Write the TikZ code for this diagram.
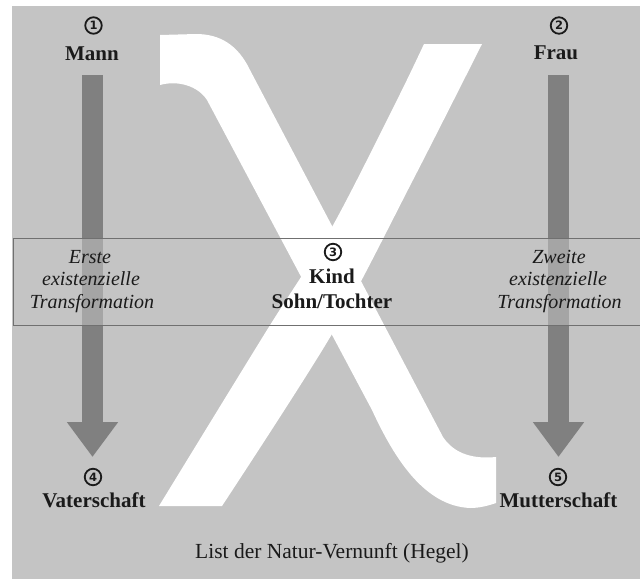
\documentclass[tikz,border=0pt]{standalone}
\usepackage{fontspec}
\setmainfont{Liberation Serif}
\setsansfont{DejaVu Sans}
\usetikzlibrary{arrows.meta}
\definecolor{bggray}{HTML}{C4C4C4}
\definecolor{arrowgray}{HTML}{808080}
\definecolor{linegray}{HTML}{707070}
\definecolor{txt}{HTML}{1A1A1A}
\begin{document}
\begin{tikzpicture}[x=1pt,y=-1pt,
  lbl/.style={font=\bfseries\fontsize{21}{24}\selectfont, text=txt, inner sep=0pt, anchor=base},
  num/.style={circle, draw=txt, line width=1.8pt, minimum size=16.5pt, inner sep=0pt,
              font=\sffamily\bfseries\fontsize{11.5}{11.5}\selectfont, text=txt},
  itl/.style={font=\itshape\fontsize{20}{22}\selectfont, text=txt, inner sep=0pt, anchor=base},
  foot/.style={font=\fontsize{21.5}{24}\selectfont, text=txt, inner sep=0pt, anchor=base},
  bigarrow/.style={draw=arrowgray, line width=21.5pt, -{Triangle[width=49pt,length=35pt]}},
  bandline/.style={draw=linegray, line width=1pt},
  chi/.style={fill=white}]
\useasboundingbox (0,0) rectangle (640,579);
% background
\fill[bggray] (12,6) rectangle (640,579);
% arrows
\coordinate (l1) at (92.5,75);
\coordinate (l2) at (92.5,457);
\coordinate (r1) at (558.5,75);
\coordinate (r2) at (558.5,457);
\draw[bigarrow] (l1) -- (l2);
\draw[bigarrow] (r1) -- (r2);
% band fill
\fill[bggray, opacity=0.55] (13,238.5) rectangle (640,325.5);
% chi: ascending stroke
\fill[chi] plot[smooth, tension=0.5] coordinates {(482,44) (413,180) (332,334) (222,506)}
  -- (159,506)
  -- plot[smooth, tension=0.5] coordinates {(159,506) (267,330) (332,227) (397,100) (424,44)}
  -- cycle;
% chi: descending stroke
\fill[chi] (160,35) -- (160,85)
  .. controls (178,80) and (198,86) .. (207,100)
  -- (372,410)
  .. controls (395,460) and (425,506) .. (470,508)
  .. controls (481,508) and (490,505) .. (496,503)
  -- (496,457)
  .. controls (475,459) and (455,455) .. (443,437)
  -- (250,70)
  .. controls (238,45) and (220,34) .. (196,34)
  -- cycle;
% band border
\draw[bandline] (640,238.5) -- (13,238.5) -- (13,325.5) -- (640,325.5);
% labels
\node[num] (n1) at (93.5,25.5) {1};
\node[lbl] (mann) at (92,60) {Mann};
\node[num] (n2) at (559,25.5) {2};
\node[lbl] (frau) at (556,59) {Frau};
\node[num] (n3) at (333,252) {3};
\node[lbl] (kind) at (332,283) {Kind};
\node[lbl] (sohn) at (332,308) {Sohn/Tochter};
\node[num] (n4) at (93,477) {4};
\node[lbl] (vater) at (94,507) {Vaterschaft};
\node[num] (n5) at (558,477) {5};
\node[lbl] (mutter) at (558.5,507) {Mutterschaft};
\node[itl] (e1) at (90,263) {Erste};
\node[itl] (e2) at (91,285.5) {existenzielle};
\node[itl] (e3) at (92,308) {Transformation};
\node[itl] (z1) at (559,263) {Zweite};
\node[itl] (z2) at (558,285.5) {existenzielle};
\node[itl] (z3) at (559.5,308) {Transformation};
\node[foot] (hegel) at (332,558) {List der Natur-Vernunft (Hegel)};
\end{tikzpicture}
\end{document}
